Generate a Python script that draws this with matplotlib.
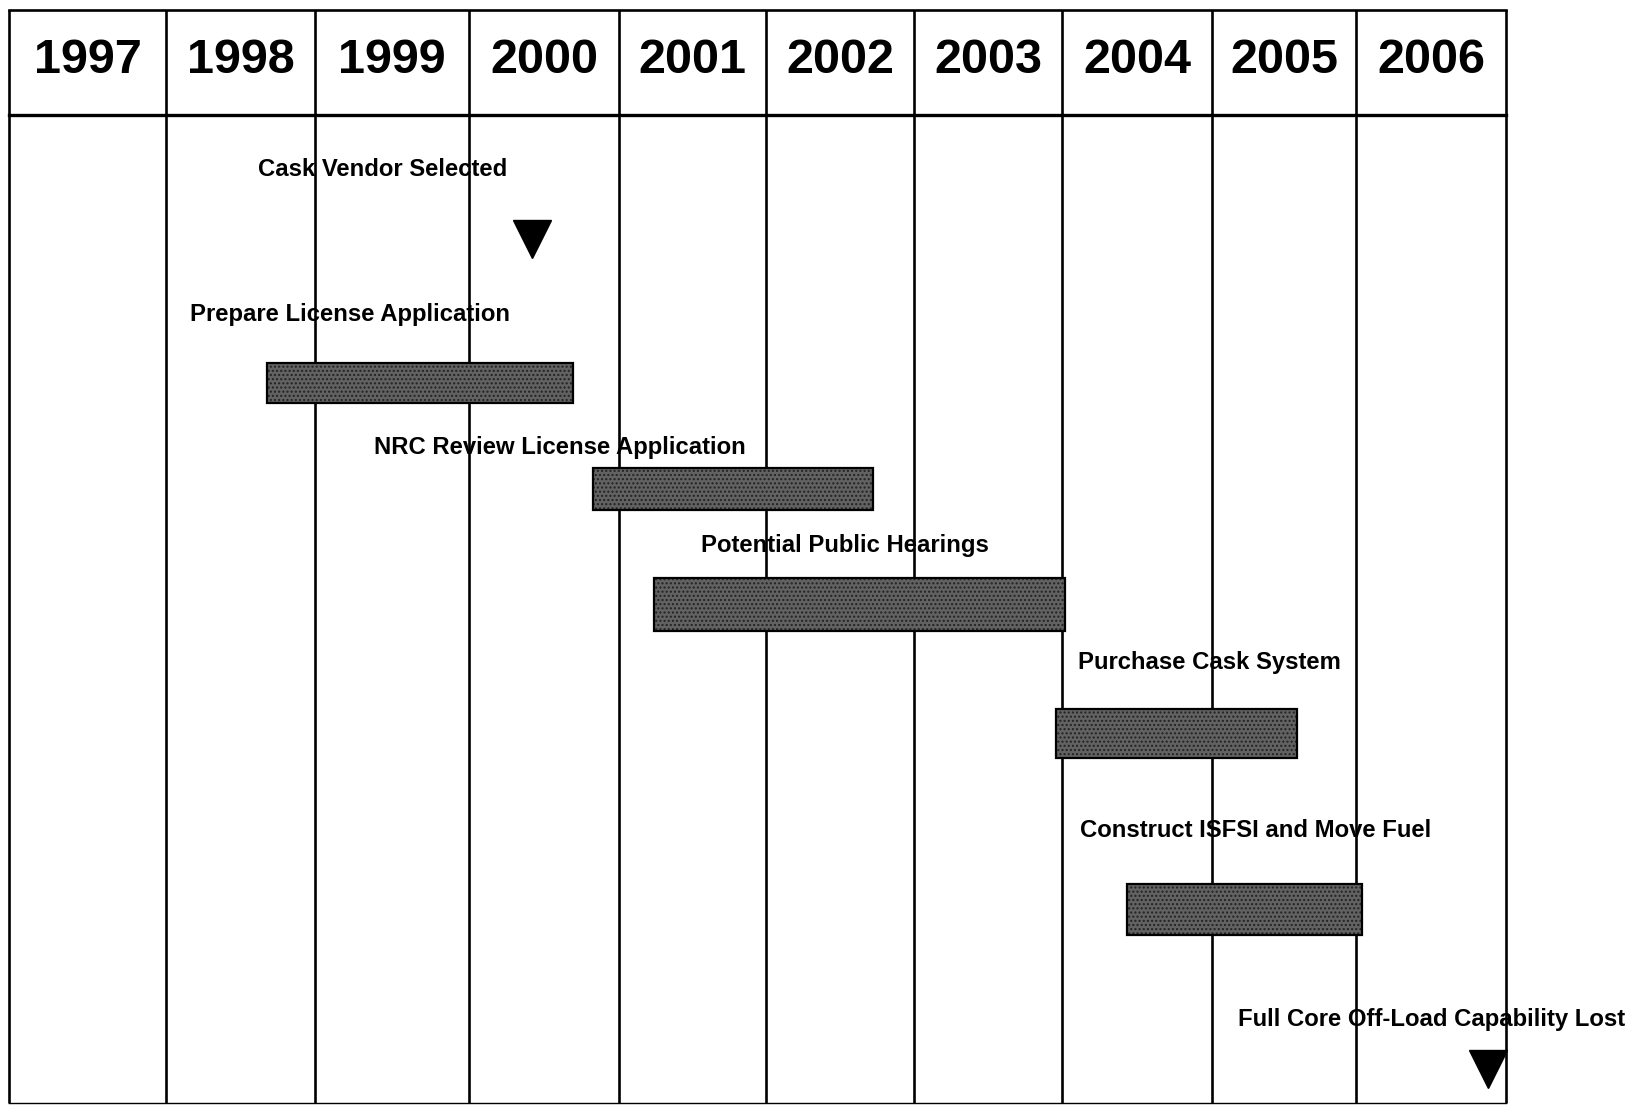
import matplotlib
matplotlib.use("Agg")
import matplotlib.pyplot as plt
import numpy as np

years = [1997, 1998, 1999, 2000, 2001, 2002, 2003, 2004, 2005, 2006]

task_names = ["Prepare License Application", "NRC Review License Application",
              "Potential Public Hearings", "Purchase Cask System",
              "Construct ISFSI and Move Fuel"]
task_start = [1998.68, 2000.83, 2001.24, 2003.96, 2004.43]
task_end = [2000.69, 2002.72, 2004.02, 2005.59, 2006.04]
task_row = [365, 466, 576, 699, 867]
task_height = [39, 40, 51, 46, 49]
task_label_x = [1998.16, 1999.38, 2001.56, 2004.11, 2004.12]
task_label_y = [300, 426, 520, 631, 791]

milestone_names = ["Cask Vendor Selected", "Full Core Off-Load Capability Lost"]
milestone_date = [2000.42, 2006.88]
milestone_row = [228, 1019]
milestone_label_x = [1998.62, 2005.18]
milestone_label_y = [162, 972]

W, H = 1646, 1106
# column boundaries (pixel layout of the original scanned grid)
edge_years = np.array(years + [years[-1] + 1], dtype=float)
edge_px = np.array([9, 166, 315, 469, 619, 766, 914, 1062, 1212, 1356, 1506], dtype=float)


def fwd(x):
    x = np.asarray(x, dtype=float)
    y = np.interp(x, edge_years, edge_px)
    lo = x < edge_years[0]
    hi = x > edge_years[-1]
    y = np.where(lo, edge_px[0] + (x - edge_years[0]) * (edge_px[1] - edge_px[0]), y)
    y = np.where(hi, edge_px[-1] + (x - edge_years[-1]) * (edge_px[-1] - edge_px[-2]), y)
    return y


def inv(p):
    p = np.asarray(p, dtype=float)
    x = np.interp(p, edge_px, edge_years)
    lo = p < edge_px[0]
    hi = p > edge_px[-1]
    x = np.where(lo, edge_years[0] + (p - edge_px[0]) / (edge_px[1] - edge_px[0]), x)
    x = np.where(hi, edge_years[-1] + (p - edge_px[-1]) / (edge_px[-1] - edge_px[-2]), x)
    return x


fam_lab = ["Liberation Sans", "DejaVu Sans"]

fig = plt.figure(figsize=(W / 100, H / 100), dpi=100)
ax = fig.add_axes([0, 0, 1, 1])
ax.set_xscale("function", functions=(fwd, inv))
ax.set_xlim(float(inv(0)), float(inv(W)))
ax.set_ylim(1054, 0)
ax.axis("off")

head_top, head_bot, bottom = 10, 110, 1051
lw = 1.9
for e in edge_years:
    ax.plot([e, e], [head_top, bottom], color="black", lw=lw, solid_capstyle="butt")
ax.plot([edge_years[0], edge_years[-1]], [head_top, head_top], color="black", lw=lw)
ax.plot([edge_years[0], edge_years[-1]], [head_bot, head_bot], color="black", lw=2.4)
ax.plot([edge_years[0], edge_years[-1]], [bottom, bottom], color="black", lw=1.0)

for y in years:
    ax.text(y + 0.5, 58, str(y), ha="center", va="center", fontsize=35,
            fontweight="bold", family=fam_lab, color="black")

for n, s, e, r, h, lx, ly in zip(task_names, task_start, task_end, task_row,
                                  task_height, task_label_x, task_label_y):
    ax.barh(r, e - s, left=s, height=h, color="#626262", edgecolor="#222222",
            hatch="....", linewidth=0, zorder=3)
    ax.barh(r, e - s, left=s, height=h, fill=False, edgecolor="black",
            linewidth=1.6, zorder=4)
    ax.text(lx, ly, n, ha="left", va="center", fontsize=17.2, fontweight="bold",
            family=fam_lab, color="black", zorder=5)

for n, d, r, lx, ly in zip(milestone_names, milestone_date, milestone_row,
                           milestone_label_x, milestone_label_y):
    ax.plot([d], [r], marker="v", markersize=27, color="black", zorder=5)
    ax.text(lx, ly, n, ha="left", va="center", fontsize=17.2, fontweight="bold",
            family=fam_lab, color="black", zorder=5)

fig.savefig("out.png", dpi=100, facecolor="white")
